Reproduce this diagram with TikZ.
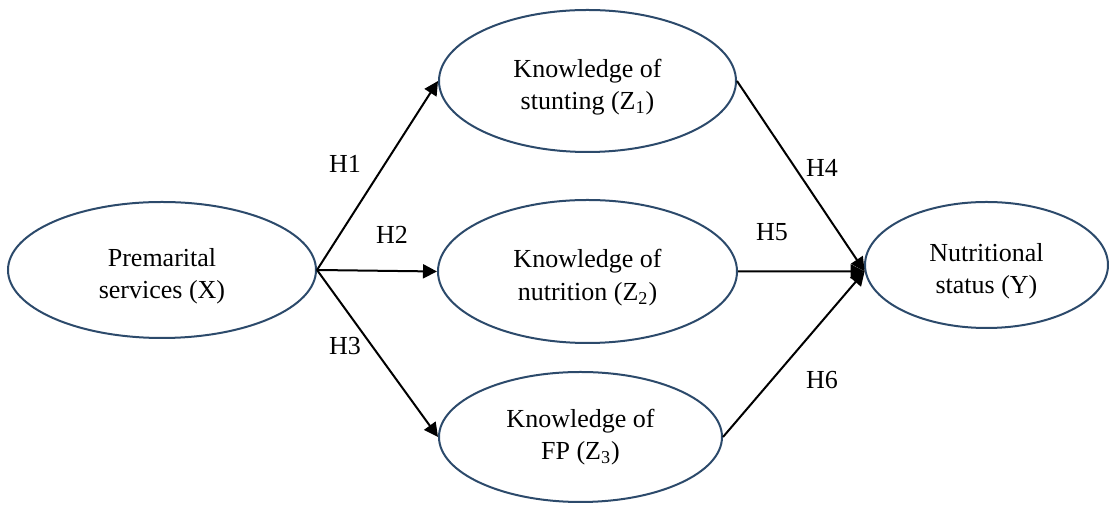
\documentclass[tikz,border=0pt]{standalone}
\usepackage{fontspec}
\setmainfont{Liberation Serif}
\usetikzlibrary{shapes.geometric,arrows.meta}
\definecolor{ringblue}{HTML}{2C4A6B}
\newcommand{\lowtext}{\rule{0pt}{15.3pt}}
\tikzset{
  var/.style={ellipse, draw=ringblue, line width=1pt, inner sep=0pt,
    align=center, font=\fontsize{13}{16.25}\selectfont},
  path/.style={draw, line width=1pt, -{Triangle[length=7pt,width=7pt]}},
  hyp/.style={font=\fontsize{13}{16}\selectfont}
}
\begin{document}
\begin{tikzpicture}[x=0.5pt,y=-0.5pt]
      \useasboundingbox (0,0) rectangle (1109,506);
      \draw
        (162,270) node[var, minimum width=154pt, minimum height=68pt] (x){\lowtext Premarital\\services (X)}
        (587.5,81) node[var, minimum width=148.5pt, minimum height=71pt] (z1){\lowtext Knowledge of\\stunting (Z\textsubscript{1})}
        (587.5,271.5) node[var, minimum width=149.5pt, minimum height=71.5pt] (z2){\lowtext Knowledge of\\nutrition (Z\textsubscript{2})}
        (580.5,437) node[var, minimum width=141.5pt, minimum height=65pt] (z3){Knowledge of\\FP (Z\textsubscript{3})}
        (986.5,265) node[var, minimum width=121.5pt, minimum height=63pt] (y){\lowtext Nutritional\\status (Y)};
      \path
        (345,164) node[hyp] (h1){H1}
        (392,235) node[hyp] (h2){H2}
        (345,346) node[hyp] (h3){H3}
        (822,168) node[hyp] (h4){H4}
        (772,232) node[hyp] (h5){H5}
        (822,380) node[hyp] (h6){H6};
      \begin{scope}[path]
        \draw (x.east) to (z1.west);
        \draw (x.east) to (z2.west);
        \draw (x.east) to (z3.west);
        \draw (z1.east) to (y.183);
        \draw (z2.east) to (y.183);
        \draw (z3.east) to (y.183);
      \end{scope}
    \end{tikzpicture}
\end{document}
